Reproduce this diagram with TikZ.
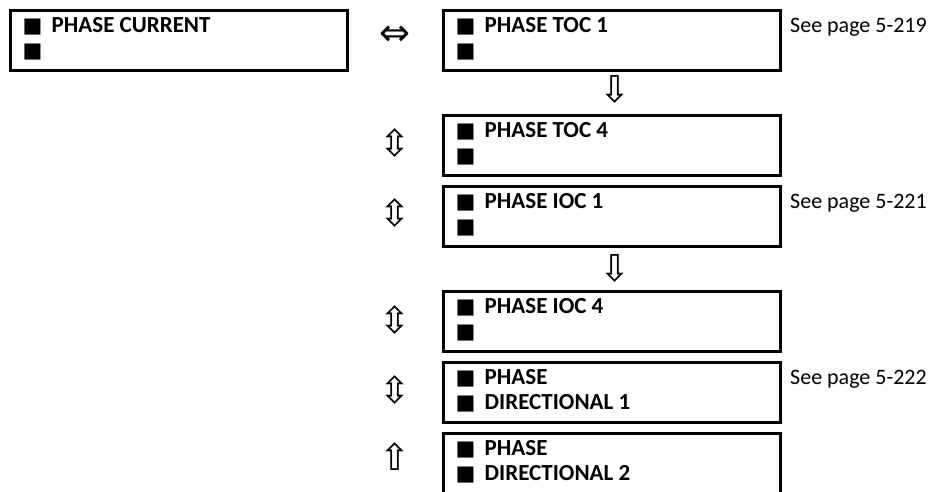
\documentclass[tikz,border=0pt]{standalone}
\usepackage{fontspec}
\setmainfont{Carlito}
\newfontfamily\symfont{DejaVu Sans}
\newcommand\bsq{\makebox[29pt][l]{{\symfont\fontsize{21}{21}\selectfont ■}}}
\tikzset{
  menubox/.style={draw, line width=3pt, minimum width=337pt, minimum height=60pt,
    anchor=north west, inner sep=0pt, outer sep=0pt},
  itemtxt/.style={anchor=base west, inner sep=0pt, align=left,
    font=\fontsize{23}{25}\selectfont\bfseries},
  seetxt/.style={anchor=base west, inner sep=0pt, font=\fontsize{22}{25}\selectfont},
  arr/.style={inner sep=0pt, font=\symfont\fontsize{37}{37}\selectfont},
}
\begin{document}
\begin{tikzpicture}[x=1pt,y=1pt]
\clip (0,0) rectangle (940,-491);
% boxes
\node[menubox] (pc) at (10,-10) {};
\node[menubox] (toc1) at (443,-10) {};
\node[menubox] (toc4) at (443,-115) {};
\node[menubox] (ioc1) at (443,-186) {};
\node[menubox] (ioc4) at (443,-291) {};
\node[menubox] (dir1) at (443,-362) {};
\node[menubox, minimum height=90pt] (dir2) at (443,-433) {};
% texts (base anchor = baseline of the last line)
\node[itemtxt] (pct) at ([xshift=12.5pt,yshift=-47pt]pc.north west) {\bsq PHASE CURRENT\\\bsq};
\node[itemtxt] (toc1t) at ([xshift=12.5pt,yshift=-47pt]toc1.north west) {\bsq PHASE TOC 1\\\bsq};
\node[itemtxt] (toc4t) at ([xshift=12.5pt,yshift=-47pt]toc4.north west) {\bsq PHASE TOC 4\\\bsq};
\node[itemtxt] (ioc1t) at ([xshift=12.5pt,yshift=-47pt]ioc1.north west) {\bsq PHASE IOC 1\\\bsq};
\node[itemtxt] (ioc4t) at ([xshift=12.5pt,yshift=-47pt]ioc4.north west) {\bsq PHASE IOC 4\\\bsq};
\node[itemtxt] (dir1t) at ([xshift=12.5pt,yshift=-47pt]dir1.north west) {\bsq PHASE\\\bsq DIRECTIONAL 1};
\node[itemtxt] (dir2t) at ([xshift=12.5pt,yshift=-47pt]dir2.north west) {\bsq PHASE\\\bsq DIRECTIONAL 2};
% see page
\node[seetxt] (s1) at ([xshift=10pt,yshift=-22pt]toc1.north east) {See page 5-219};
\node[seetxt] (s2) at ([xshift=10pt,yshift=-22pt]ioc1.north east) {See page 5-221};
\node[seetxt] (s3) at ([xshift=10pt,yshift=-22pt]dir1.north east) {See page 5-222};
% arrows
\node[arr] (a0) at (395,-36) {⇔};
\node[arr] (a1) at (615,-89) {⇩};
\node[arr] (a2) at (395,-143) {⇳};
\node[arr] (a3) at (395,-213) {⇳};
\node[arr] (a4) at (615,-268) {⇩};
\node[arr] (a5) at (395,-320) {⇳};
\node[arr] (a6) at (395,-390) {⇳};
\node[arr] (a7) at (395,-457) {⇧};
\end{tikzpicture}
\end{document}
